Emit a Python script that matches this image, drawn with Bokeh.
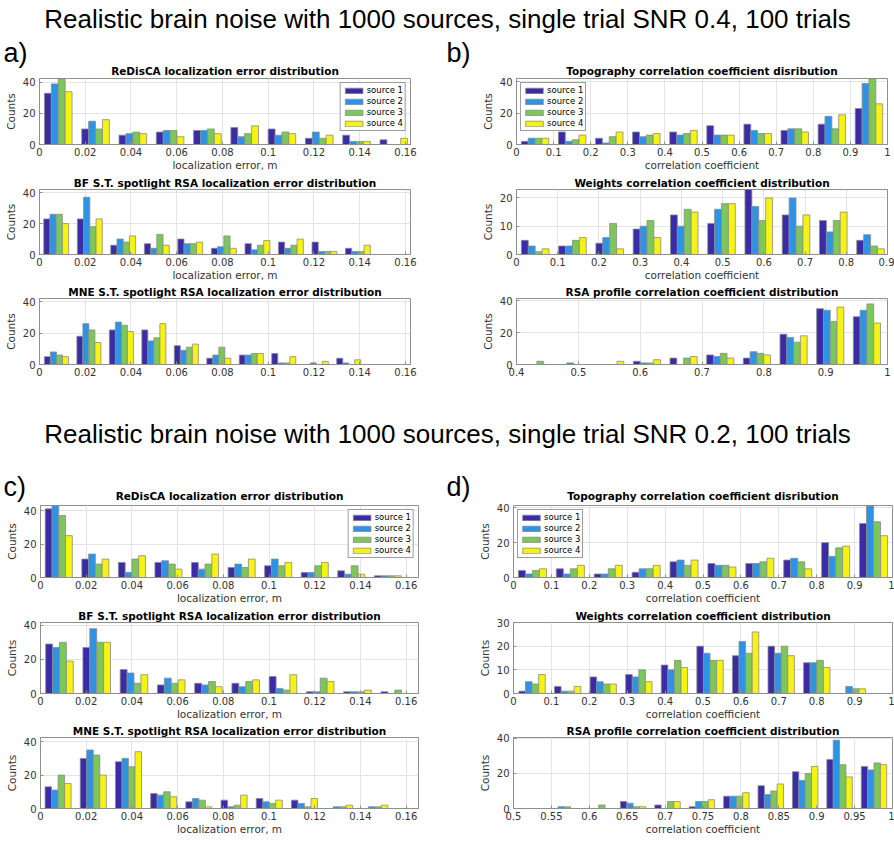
from bokeh.plotting import figure
from bokeh.layouts import column, row
from bokeh.models import Range1d, FixedTicker, Label, Legend, LegendItem, ColumnDataSource
from bokeh.embed import file_html
from bokeh.resources import INLINE

SOURCES = ["source 1", "source 2", "source 3", "source 4"]
COLORS = ["#3B2BA6", "#2C93E6", "#7CC65A", "#F6F313"]

# ---- tick positions / labels ----
LOC_TICKS = [0, 0.02, 0.04, 0.06, 0.08, 0.1, 0.12, 0.14, 0.16]
LOC_LABELS = ["0", "0.02", "0.04", "0.06", "0.08", "0.1", "0.12", "0.14", "0.16"]
CORR_TICKS = [0, 0.1, 0.2, 0.3, 0.4, 0.5, 0.6, 0.7, 0.8, 0.9, 1]
CORR_LABELS = ["0", "0.1", "0.2", "0.3", "0.4", "0.5", "0.6", "0.7", "0.8", "0.9", "1"]
RSA_TICKS_A = [0.4, 0.5, 0.6, 0.7, 0.8, 0.9, 1]
RSA_LABELS_A = ["0.4", "0.5", "0.6", "0.7", "0.8", "0.9", "1"]
RSA_TICKS_B = [0.5, 0.55, 0.6, 0.65, 0.7, 0.75, 0.8, 0.85, 0.9, 0.95, 1]
RSA_LABELS_B = ["0.5", "0.55", "0.6", "0.65", "0.7", "0.75", "0.8", "0.85", "0.9", "0.95", "1"]
COUNT_TICKS = [0, 20, 40]
COUNT_TICKS_W1 = [0, 10, 20]
COUNT_TICKS_W2 = [0, 10, 20, 30]

# ---- SNR 0.4 ----
REDISCA_04_BINS = [0.0082, 0.0245, 0.0408, 0.0571, 0.0734, 0.0897, 0.1060, 0.1223, 0.1386, 0.1549]
REDISCA_04_S1 = [33, 10, 6, 8, 9, 11, 10, 4, 6, 3]
REDISCA_04_S2 = [39, 15, 7, 9, 9, 5, 6, 8, 2, 0]
REDISCA_04_S3 = [42, 10, 8, 9, 10, 7, 8, 4, 2, 0]
REDISCA_04_S4 = [34, 16, 7, 5, 7, 12, 7, 6, 2, 4]

BF_04_BINS = [0.0073, 0.0220, 0.0366, 0.0513, 0.0659, 0.0806, 0.0953, 0.1099, 0.1246, 0.1392]
BF_04_S1 = [23, 23, 6, 7, 10, 4, 7, 8, 8, 4]
BF_04_S2 = [26, 37, 10, 4, 7, 5, 3, 4, 2, 2]
BF_04_S3 = [26, 18, 8, 13, 7, 12, 6, 6, 2, 2]
BF_04_S4 = [20, 23, 12, 6, 8, 4, 9, 10, 2, 6]

MNE_04_BINS = [0.0074, 0.0216, 0.0358, 0.0500, 0.0642, 0.0784, 0.0926, 0.1068, 0.1210, 0.1352]
MNE_04_S1 = [5, 18, 22, 22, 12, 4, 6, 7, 0, 4]
MNE_04_S2 = [8, 26, 27, 15, 9, 6, 6, 1, 1, 1]
MNE_04_S3 = [6, 22, 25, 17, 11, 11, 7, 1, 0, 0]
MNE_04_S4 = [5, 14, 21, 26, 13, 4, 7, 5, 2, 3]

TOPO_04_BINS = [0.05, 0.15, 0.25, 0.35, 0.45, 0.55, 0.65, 0.75, 0.85, 0.95]
TOPO_04_S1 = [2, 8, 4, 8, 8, 12, 13, 9, 13, 23]
TOPO_04_S2 = [4, 2, 1, 5, 6, 6, 9, 10, 18, 39]
TOPO_04_S3 = [4, 3, 5, 6, 7, 6, 7, 10, 10, 42]
TOPO_04_S4 = [4, 6, 8, 7, 9, 6, 7, 8, 19, 26]

WEIGHTS_04_BINS = [0.0453, 0.1357, 0.2261, 0.3165, 0.4069, 0.4973, 0.5877, 0.6781, 0.7685, 0.8589]
WEIGHTS_04_S1 = [5, 3, 4, 9, 14, 11, 23, 14, 12, 5]
WEIGHTS_04_S2 = [3, 3, 6, 10, 10, 16, 17, 20, 8, 7]
WEIGHTS_04_S3 = [1, 5, 11, 12, 16, 18, 12, 10, 12, 3]
WEIGHTS_04_S4 = [2, 6, 2, 6, 15, 18, 20, 14, 15, 2]

RSA_04_BINS = [0.4330, 0.4923, 0.5516, 0.6109, 0.6702, 0.7295, 0.7888, 0.8481, 0.9074, 0.9667]
RSA_04_S1 = [0, 0, 0, 2, 4, 6, 4, 19, 35, 30]
RSA_04_S2 = [0, 1, 0, 1, 0, 5, 8, 17, 34, 34]
RSA_04_S3 = [2, 0, 0, 1, 4, 7, 7, 14, 27, 38]
RSA_04_S4 = [0, 0, 2, 3, 5, 4, 6, 18, 36, 26]

# ---- SNR 0.2 ----
REDISCA_02_BINS = [0.008, 0.024, 0.040, 0.056, 0.072, 0.088, 0.104, 0.120, 0.136, 0.152]
REDISCA_02_S1 = [41, 11, 9, 9, 9, 6, 7, 3, 4, 1]
REDISCA_02_S2 = [43, 14, 3, 10, 5, 8, 11, 3, 2, 1]
REDISCA_02_S3 = [37, 8, 11, 8, 8, 6, 7, 7, 7, 1]
REDISCA_02_S4 = [25, 11, 13, 5, 14, 11, 9, 9, 2, 1]

BF_02_BINS = [0.0083, 0.0246, 0.0409, 0.0572, 0.0735, 0.0898, 0.1061, 0.1224, 0.1387, 0.1550]
BF_02_S1 = [29, 27, 14, 5, 6, 6, 10, 1, 1, 1]
BF_02_S2 = [27, 38, 12, 9, 5, 4, 3, 1, 1, 0]
BF_02_S3 = [30, 30, 6, 6, 7, 7, 2, 9, 1, 2]
BF_02_S4 = [19, 30, 11, 8, 4, 8, 11, 7, 2, 0]

MNE_02_BINS = [0.0077, 0.0231, 0.0385, 0.0539, 0.0693, 0.0847, 0.1001, 0.1155, 0.1309, 0.1463]
MNE_02_S1 = [13, 30, 28, 9, 4, 5, 6, 5, 0, 0]
MNE_02_S2 = [11, 35, 30, 8, 6, 1, 4, 3, 1, 1]
MNE_02_S3 = [20, 32, 25, 10, 5, 2, 3, 1, 1, 1]
MNE_02_S4 = [15, 20, 34, 7, 1, 8, 5, 6, 2, 2]

TOPO_02_BINS = [0.05, 0.15, 0.25, 0.35, 0.45, 0.55, 0.65, 0.75, 0.85, 0.95]
TOPO_02_S1 = [4, 5, 2, 3, 9, 8, 8, 10, 20, 31]
TOPO_02_S2 = [2, 2, 2, 5, 10, 7, 8, 11, 12, 41]
TOPO_02_S3 = [4, 5, 5, 5, 7, 7, 9, 9, 17, 32]
TOPO_02_S4 = [5, 7, 7, 7, 10, 6, 11, 5, 18, 24]

WEIGHTS_02_BINS = [0.0490, 0.1429, 0.2368, 0.3307, 0.4246, 0.5185, 0.6124, 0.7063, 0.8002, 0.8941]
WEIGHTS_02_S1 = [1, 3, 7, 8, 12, 20, 16, 20, 13, 0]
WEIGHTS_02_S2 = [5, 1, 5, 7, 10, 17, 22, 17, 13, 3]
WEIGHTS_02_S3 = [4, 1, 4, 10, 14, 14, 17, 20, 14, 2]
WEIGHTS_02_S4 = [8, 3, 4, 5, 11, 14, 26, 16, 11, 2]

RSA_02_BINS = [0.5670, 0.6124, 0.6578, 0.7032, 0.7486, 0.7940, 0.8394, 0.8848, 0.9302, 0.9756]
RSA_02_S1 = [0, 0, 4, 2, 1, 7, 13, 21, 28, 24]
RSA_02_S2 = [1, 0, 3, 0, 4, 7, 8, 16, 39, 22]
RSA_02_S3 = [1, 2, 1, 4, 4, 7, 10, 20, 25, 26]
RSA_02_S4 = [0, 0, 1, 4, 5, 9, 14, 24, 18, 25]

FONT = "DejaVu Sans"
AX_GRAY = "#8f8f8f"
TXT = "#333333"
W = 894


def hist_panel(bins, counts, title, xlim, ylim, xticks, xlabels, yticks, xlabel,
               left, frame_w, right, top, frame_h, bottom, legend_loc=None):
    p = figure(width=left + frame_w + right, height=top + frame_h + bottom,
               x_range=Range1d(*xlim), y_range=Range1d(0, ylim),
               output_backend="svg", toolbar_location=None,
               min_border_left=left, min_border_right=right,
               min_border_top=top, min_border_bottom=bottom,
               title=title)
    step = bins[1] - bins[0]
    bw = step * 0.185
    items = []
    for i, (cnt, name, color) in enumerate(zip(counts, SOURCES, COLORS)):
        xs = [b + (i - 1.5) * bw for b in bins]
        src = ColumnDataSource(dict(x=xs, top=cnt))
        r = p.vbar(x="x", top="top", bottom=0, width=bw, source=src,
                   fill_color=color, line_color="#8a8a8a", line_width=0.8)
        items.append(LegendItem(label=name, renderers=[r]))

    if title:
        p.title.text_font = FONT
        p.title.text_font_style = "bold"
        p.title.text_font_size = "10.5px"
        p.title.text_color = "black"
        p.title.align = "center"
        p.title.standoff = 1

    p.xaxis.ticker = FixedTicker(ticks=xticks)
    p.xaxis.major_label_overrides = {t: s for t, s in zip(xticks, xlabels)}
    p.yaxis.ticker = FixedTicker(ticks=yticks)
    p.xgrid.ticker = FixedTicker(ticks=xticks)
    p.ygrid.ticker = FixedTicker(ticks=yticks)
    p.grid.grid_line_color = "#e4e4e4"
    p.grid.grid_line_width = 1

    for ax in (p.xaxis[0], p.yaxis[0]):
        ax.axis_line_color = AX_GRAY
        ax.major_tick_line_color = AX_GRAY
        ax.major_tick_in = 3
        ax.major_tick_out = 0
        ax.minor_tick_line_color = None
        ax.major_label_text_font = FONT
        ax.major_label_text_font_size = "10px"
        ax.major_label_text_color = TXT
        ax.axis_label_text_font = FONT
        ax.axis_label_text_font_size = "10.5px"
        ax.axis_label_text_font_style = "normal"
        ax.axis_label_text_color = TXT
    p.xaxis.major_label_standoff = 3
    p.xaxis.axis_label_standoff = 0
    p.yaxis.major_label_standoff = 4
    p.yaxis.axis_label_standoff = 3
    if xlabel:
        p.xaxis.axis_label = xlabel
    p.yaxis.axis_label = "Counts"
    p.outline_line_color = AX_GRAY

    if legend_loc:
        lg = Legend(items=items, location=legend_loc)
        lg.label_text_font = FONT
        lg.label_text_font_size = "8.5px"
        lg.label_text_color = "black"
        lg.glyph_width = 22
        lg.glyph_height = 7
        lg.label_height = 9
        lg.label_standoff = 2
        lg.spacing = 1
        lg.padding = 2
        lg.margin = 4
        lg.border_line_color = "#3a3a3a"
        lg.border_line_width = 0.8
        p.add_layout(lg)
    return p


def header(height, texts):
    p = figure(width=W, height=height, x_range=Range1d(0, W), y_range=Range1d(height, 0),
               output_backend="svg", toolbar_location=None, min_border=0,
               x_axis_type=None, y_axis_type=None)
    p.grid.visible = False
    p.outline_line_color = None
    for x, y, txt, size, style, font, align in texts:
        p.add_layout(Label(x=x, y=y, text=txt, text_font=font, text_font_size=size,
                           text_font_style=style, text_align=align,
                           text_baseline="middle", text_color="black"))
    return p


MAIN_FONT = "Liberation Sans"
LOC_XLABEL = "localization error, m"
CORR_XLABEL = "correlation coefficient"

# column geometry (left border, frame width, right border)
A_COL = (39, 371, 37)
B_COL = (69, 371, 7)
C_COL = (40, 378, 29)
D_COL = (66, 379, 2)

head1 = header(77, [
    (447, 18, "Realistic brain noise with 1000 sources, single trial SNR 0.4, 100 trials", "26px", "normal", MAIN_FONT, "center"),
    (3, 52, "a)", "27px", "normal", MAIN_FONT, "left"),
    (446, 52, "b)", "27px", "normal", MAIN_FONT, "left"),
    (224.5, 70.5, "ReDisCA localization error distribution", "10.5px", "bold", FONT, "center"),
    (701.5, 70.5, "Topography correlation coefficient disribution", "10.5px", "bold", FONT, "center"),
])

a1 = hist_panel(REDISCA_04_BINS, [REDISCA_04_S1, REDISCA_04_S2, REDISCA_04_S3, REDISCA_04_S4], None,
                (0, 0.1622), 42.5, LOC_TICKS, LOC_LABELS, COUNT_TICKS, LOC_XLABEL,
                *A_COL, 1, 66, 30, legend_loc="top_right")
b1 = hist_panel(TOPO_04_BINS, [TOPO_04_S1, TOPO_04_S2, TOPO_04_S3, TOPO_04_S4], None,
                (0, 1), 42.2, CORR_TICKS, CORR_LABELS, COUNT_TICKS, CORR_XLABEL,
                *B_COL, 1, 66, 30, legend_loc="top_left")
a2 = hist_panel(BF_04_BINS, [BF_04_S1, BF_04_S2, BF_04_S3, BF_04_S4],
                "BF S.T. spotlight RSA localization error distribution",
                (0, 0.1622), 42, LOC_TICKS, LOC_LABELS, COUNT_TICKS, LOC_XLABEL,
                *A_COL, 14, 66, 29)
b2 = hist_panel(WEIGHTS_04_BINS, [WEIGHTS_04_S1, WEIGHTS_04_S2, WEIGHTS_04_S3, WEIGHTS_04_S4],
                "Weights correlation coefficient distribution",
                (0, 0.9), 23, CORR_TICKS, CORR_LABELS, COUNT_TICKS_W1, CORR_XLABEL,
                *B_COL, 14, 66, 29)
a3 = hist_panel(MNE_04_BINS, [MNE_04_S1, MNE_04_S2, MNE_04_S3, MNE_04_S4],
                "MNE S.T. spotlight RSA localization error distribution",
                (0, 0.1622), 42, LOC_TICKS, LOC_LABELS, COUNT_TICKS, None,
                *A_COL, 14, 67, 18)
b3 = hist_panel(RSA_04_BINS, [RSA_04_S1, RSA_04_S2, RSA_04_S3, RSA_04_S4],
                "RSA profile correlation coefficient distribution",
                (0.4, 1), 41.4, RSA_TICKS_A, RSA_LABELS_A, COUNT_TICKS, None,
                *B_COL, 14, 67, 18)

head2 = header(120, [
    (447, 51, "Realistic brain noise with 1000 sources, single trial SNR 0.2, 100 trials", "26px", "normal", MAIN_FONT, "center"),
    (3, 104, "c)", "27px", "normal", MAIN_FONT, "left"),
    (446, 104, "d)", "27px", "normal", MAIN_FONT, "left"),
    (229, 113, "ReDisCA localization error distribution", "10.5px", "bold", FONT, "center"),
    (702.5, 113, "Topography correlation coefficient disribution", "10.5px", "bold", FONT, "center"),
])

c1 = hist_panel(REDISCA_02_BINS, [REDISCA_02_S1, REDISCA_02_S2, REDISCA_02_S3, REDISCA_02_S4], None,
                (0, 0.1654), 43, LOC_TICKS, LOC_LABELS, COUNT_TICKS, LOC_XLABEL,
                *C_COL, 1, 74, 30, legend_loc="top_right")
d1 = hist_panel(TOPO_02_BINS, [TOPO_02_S1, TOPO_02_S2, TOPO_02_S3, TOPO_02_S4], None,
                (0, 1), 41.3, CORR_TICKS, CORR_LABELS, COUNT_TICKS, CORR_XLABEL,
                *D_COL, 3, 73, 29, legend_loc="top_left")
c2 = hist_panel(BF_02_BINS, [BF_02_S1, BF_02_S2, BF_02_S3, BF_02_S4],
                "BF S.T. spotlight RSA localization error distribution",
                (0, 0.1654), 41.6, LOC_TICKS, LOC_LABELS, COUNT_TICKS, LOC_XLABEL,
                *C_COL, 14, 72, 29)
d2 = hist_panel(WEIGHTS_02_BINS, [WEIGHTS_02_S1, WEIGHTS_02_S2, WEIGHTS_02_S3, WEIGHTS_02_S4],
                "Weights correlation coefficient distribution",
                (0, 1), 30, CORR_TICKS, CORR_LABELS, COUNT_TICKS_W2, CORR_XLABEL,
                *D_COL, 14, 72, 29)
c3 = hist_panel(MNE_02_BINS, [MNE_02_S1, MNE_02_S2, MNE_02_S3, MNE_02_S4],
                "MNE S.T. spotlight RSA localization error distribution",
                (0, 0.1654), 42.5, LOC_TICKS, LOC_LABELS, COUNT_TICKS, LOC_XLABEL,
                *C_COL, 14, 72, 31)
d3 = hist_panel(RSA_02_BINS, [RSA_02_S1, RSA_02_S2, RSA_02_S3, RSA_02_S4],
                "RSA profile correlation coefficient distribution",
                (0.5, 1), 40.5, RSA_TICKS_B, RSA_LABELS_B, COUNT_TICKS, CORR_XLABEL,
                *D_COL, 14, 72, 31)

page = column(head1, row(a1, b1), row(a2, b2), row(a3, b3),
              head2, row(c1, d1), row(c2, d2), row(c3, d3))

open("out.html", "w").write(file_html(page, INLINE))
